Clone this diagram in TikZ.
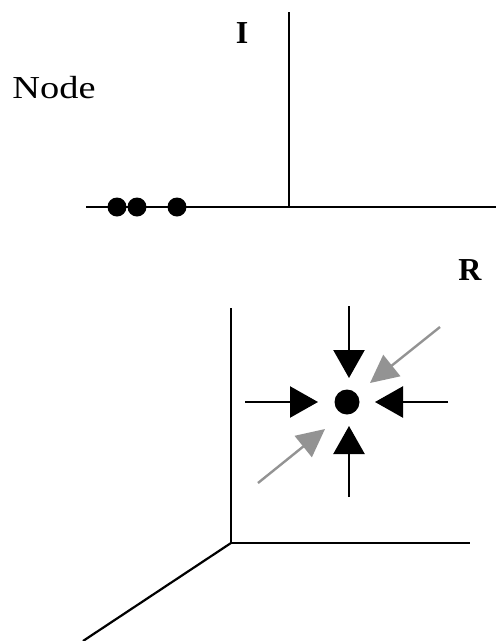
\documentclass[tikz,border=0pt]{standalone}
\usepackage{fontspec}
\setmainfont{Liberation Serif}
\usetikzlibrary{arrows.meta}
\begin{document}
\begin{tikzpicture}[x=1pt,y=-1pt,
  axis/.style={line width=2.2pt,black},
  dotnode/.style={circle,fill=black,inner sep=0pt,minimum size=19pt},
  bigdot/.style={circle,fill=black,inner sep=0pt,minimum size=25pt},
  blackarrow/.style={line width=2.4pt,black,-{Triangle[length=28pt,width=31pt]}},
  grayarrow/.style={line width=2.4pt,gray!85,-{Triangle[length=28pt,width=27pt]}},
  lbl/.style={font=\fontsize{32}{36}\selectfont,inner sep=0pt}]
\useasboundingbox (0,0) rectangle (496,641);
% top axes
\coordinate (hl) at (86,207);
\coordinate (hr) at (496,207);
\coordinate (o1) at (289,207);
\coordinate (vt) at (289,12);
\draw[axis] (hl) -- (hr);
\draw[axis] (o1) -- (vt);
\node[dotnode] (d1) at (117,207) {};
\node[dotnode] (d2) at (137,207) {};
\node[dotnode] (d3) at (177,207) {};
\node[lbl,xscale=1.2] (node) at (54,88) {Node};
\node[lbl,font=\fontsize{32}{36}\selectfont\bfseries] (ilab) at (242,33) {I};
\node[lbl,font=\fontsize{32}{36}\selectfont\bfseries] (rlab) at (470,270) {R};
% bottom axes
\coordinate (o2) at (231,543);
\coordinate (bv) at (231,308);
\coordinate (bh) at (470,543);
\coordinate (bd) at (83,641);
\draw[axis] (bv) -- (o2) -- (bh);
\draw[axis] (o2) -- (bd);
% central point and arrows
\node[bigdot] (c) at (347,402) {};
\coordinate (tt) at (349,306);  \coordinate (tp) at (349,378);
\coordinate (lt) at (245,402);  \coordinate (lp) at (318,402);
\coordinate (rt) at (448,402);  \coordinate (rp) at (375,402);
\coordinate (bt) at (349,497);  \coordinate (bp) at (349,426);
\coordinate (gut) at (440,327); \coordinate (gup) at (370,383);
\coordinate (glt) at (258,483); \coordinate (glp) at (325,429);
\draw[blackarrow] (tt) -- (tp);
\draw[blackarrow] (lt) -- (lp);
\draw[blackarrow] (rt) -- (rp);
\draw[blackarrow] (bt) -- (bp);
\draw[grayarrow] (gut) -- (gup);
\draw[grayarrow] (glt) -- (glp);
\end{tikzpicture}
\end{document}
